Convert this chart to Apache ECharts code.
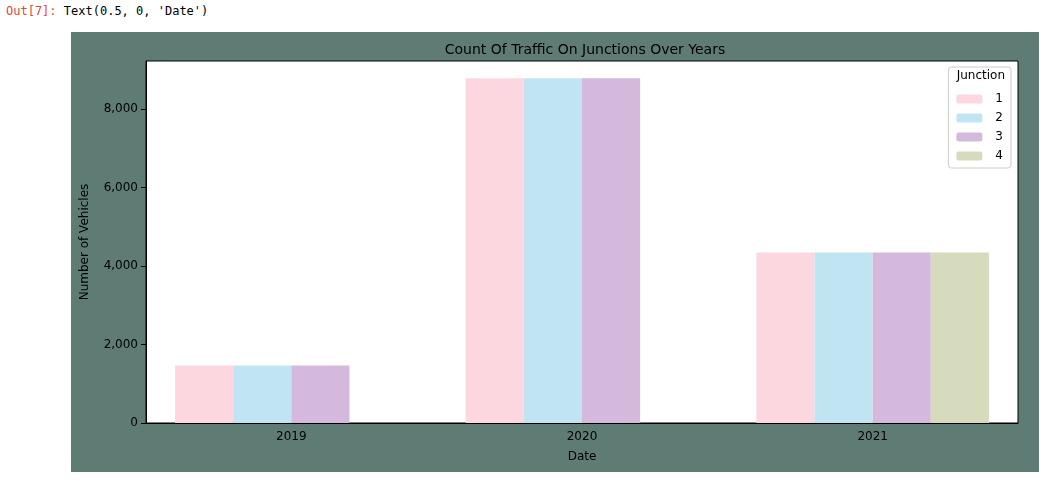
<!DOCTYPE html>
<html>
<head>
<meta charset="utf-8">
<script src="https://cdn.jsdelivr.net/npm/echarts@6/dist/echarts.min.js"></script>
<style>
  body { margin: 0; background: #fff; width: 1044px; height: 486px; position: relative; font-family: "DejaVu Sans", sans-serif; }
  #out { position: absolute; left: 6px; top: 4px; font-family: "DejaVu Sans Mono", monospace; font-size: 12px; }
  #out .p { color: #d84a3a; }
  #chart { position: absolute; left: 71px; top: 32px; width: 968px; height: 440px; }
</style>
</head>
<body>
<div id="out"><span class="p">Out[7]:</span> Text(0.5, 0, 'Date')</div>
<div id="chart"></div>
<script>
// data
const years = ['2019', '2020', '2021'];
const junctions = ['1', '2', '3', '4'];
const counts = [
    [1464, 8784, 4344],
    [1464, 8784, 4344],
    [1464, 8784, 4344],
    [null, null, 4344]
];
const colors = ['#fcd7df', '#c1e4f3', '#d4b9dd', '#d7dbbe'];

const chart = echarts.init(document.getElementById('chart'));
chart.setOption({
    backgroundColor: '#5f7c74',
    animation: false,
    textStyle: { fontFamily: 'DejaVu Sans' },
    title: {
        text: 'Count Of Traffic On Junctions Over Years',
        left: 509, top: 6, textAlign: 'center',
        textStyle: { fontSize: 14, fontWeight: 'normal', color: '#000' }
    },
    grid: {
        left: 71, top: 29, width: 876, height: 362,
        show: true, backgroundColor: '#fff', borderColor: '#000', borderWidth: 1
    },
    legend: {
        orient: 'vertical', right: 28, top: 35,
        backgroundColor: '#fff', borderColor: '#ccc', borderWidth: 1, borderRadius: 3,
        padding: [26, 8, 6, 8],
        itemWidth: 26, itemHeight: 9, itemGap: 7,
        textStyle: { fontSize: 12, color: '#000', padding: [0, 0, 0, 8] },
        data: junctions
    },
    graphic: [{
        type: 'text', right: 34, top: 38, z: 100,
        style: { text: 'Junction', fontSize: 12, fill: '#000', fontFamily: 'DejaVu Sans' }
    }],
    xAxis: {
        type: 'category', data: years,
        name: 'Date', nameLocation: 'middle', nameGap: 28,
        nameTextStyle: { color: '#000', fontSize: 12 },
        axisLine: { lineStyle: { color: '#000' } },
        axisTick: { alignWithLabel: true, lineStyle: { color: '#000' } },
        axisLabel: { color: '#000', fontSize: 12 }
    },
    yAxis: {
        type: 'value', min: 0, max: 9223, interval: 2000,
        name: 'Number of Vehicles', nameLocation: 'middle', nameGap: 55,
        nameTextStyle: { color: '#000', fontSize: 12 },
        axisLine: { show: true, lineStyle: { color: '#000' } },
        axisTick: { show: true, lineStyle: { color: '#000' } },
        axisLabel: { color: '#000', fontSize: 12, showMaxLabel: false },
        splitLine: { show: false }
    },
    series: junctions.map((j, i) => ({
        name: j, type: 'bar', data: counts[i],
        itemStyle: { color: colors[i] },
        barGap: '0%', barCategoryGap: '20%'
    }))
});
</script>
</body>
</html>
